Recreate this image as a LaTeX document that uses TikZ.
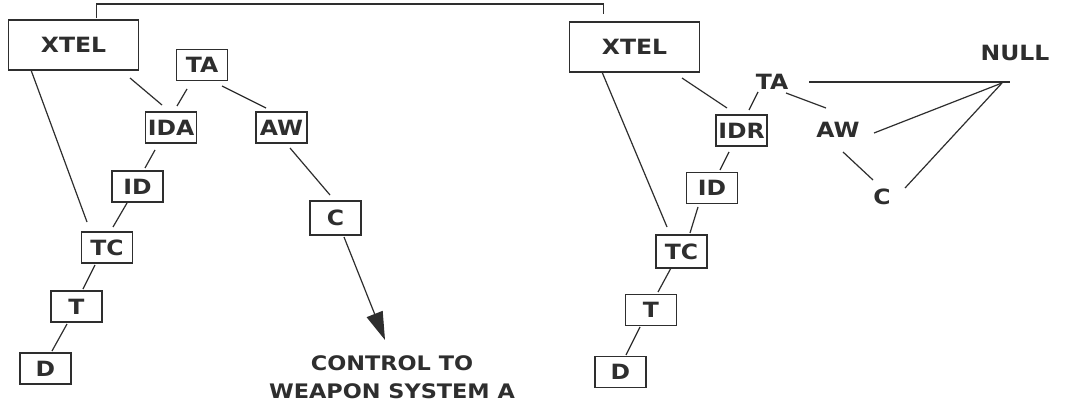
\documentclass[tikz,border=0pt]{standalone}
\usepackage{fontspec}
\newfontfamily\plotfont{DejaVu Sans}[FakeStretch=1.12]
\usetikzlibrary{calc,arrows.meta}
\definecolor{ink}{HTML}{2E2E2E}
\begin{document}
\begin{tikzpicture}[x=1pt,y=-1pt,
  every node/.style={font=\plotfont\bfseries\fontsize{21}{24}\selectfont, text=ink, inner sep=0pt},
  box/.style={draw=ink, line width=1.6pt, minimum width=51pt, minimum height=31pt},
  bigbox/.style={draw=ink, line width=1.6pt, minimum width=130pt, minimum height=50pt},
  lab/.style={},
  link/.style={draw=ink, line width=1.2pt}]
\useasboundingbox[fill=white] (0,0) rectangle (1075,414);
% left diagram
\node[bigbox] (xtelL) at (73.5,45) {XTEL\hspace{10pt}};
\node[box] (taL) at (202,65) {TA};
\node[box] (idaL) at (171,127.5) {IDA};
\node[box] (awL) at (281.5,127.5) {AW};
\node[box] (idL) at (137.5,186.5) {ID};
\node[box] (tcL) at (107,247.5) {TC};
\node[box] (tL) at (76.5,306.5) {T};
\node[box] (dL) at (45.5,368.5) {D};
\node[box, minimum height=34pt] (cL) at (335.5,218) {C};
\coordinate (tip) at (385,340);
\node[align=center, font=\plotfont\bfseries\fontsize{20}{28}\selectfont] (ctl) at (392,377) {CONTROL TO\\WEAPON SYSTEM A};
% right diagram
\node[bigbox] (xtelR) at (634.5,47) {XTEL\hspace{10pt}};
\node[lab] (taR) at (772,82) {TA};
\node[lab] (nullR) at (1015,53) {NULL};
\node[lab] (awR) at (838,130) {AW};
\node[lab] (cR) at (882,197) {C};
\node[box] (idrR) at (741.5,130.5) {IDR};
\node[box] (idR) at (712,188) {ID};
\node[box, minimum height=33pt] (tcR) at (681.5,251.5) {TC};
\node[box] (tR) at (651,310) {T};
\node[box] (dR) at (620.5,372) {D};
% bracket
\draw[link, line width=1.5pt] ($(xtelL.north west)+(89,-1)$) -- ++(0,-14) -| ($(xtelR.north west)+(35,-7)$);
% left links
\draw[link] ($(xtelL)+(-42.5,25)$) -- ($(tcL)+(-20,-25.5)$);
\draw[link] ($(xtelL)+(56.5,33)$) -- ($(idaL)+(-9,-22.5)$);
\draw[link] ($(taL)+(-15,24)$) -- ($(idaL)+(6,-21.5)$);
\draw[link] ($(taL)+(20,21)$) -- ($(awL)+(-15.5,-19.5)$);
\draw[link] ($(idaL)+(-16,22.5)$) -- ($(idL)+(7.5,-18.5)$);
\draw[link] ($(idL)+(-10.5,16.5)$) -- ($(tcL)+(6,-20.5)$);
\draw[link] ($(tcL)+(-12,17.5)$) -- ($(tL)+(6.5,-17.5)$);
\draw[link] ($(tL)+(-9.5,17.5)$) -- ($(dL)+(6.5,-17.5)$);
\draw[link] ($(awL)+(8.5,20.5)$) -- ($(cL)+(-5.5,-23)$);
\draw[link, -{Triangle[length=28pt,width=17pt]}] ($(cL)+(8.5,19)$) -- (tip);
% right links
\coordinate (nullp) at ($(nullR)+(-13,30)$);
\draw[link] ($(xtelR)+(-32.5,25)$) -- ($(tcR)+(-14.5,-24.5)$);
\draw[link] ($(xtelR)+(47.5,31)$) -- ($(idrR)+(-14.5,-22.5)$);
\draw[link] ($(taR)+(-14,10)$) -- ($(idrR)+(7.5,-20.5)$);
\draw[link] ($(taR)+(14,11)$) -- ($(awR)+(-12,-22)$);
\draw[link] ($(taR)+(37,0)$) -- ($(nullR)+(-5,29)$);
\draw[link] (nullp) -- ($(awR)+(36,3)$);
\draw[link] (nullp) -- ($(cR)+(23,-9)$);
\draw[link] ($(awR)+(5,22)$) -- ($(cR)+(-9,-17)$);
\draw[link] ($(idrR)+(-12.5,21.5)$) -- ($(idR)+(8,-18)$);
\draw[link] ($(idR)+(-14,19)$) -- ($(tcR)+(8.5,-18.5)$);
\draw[link] ($(tcR)+(-10.5,16.5)$) -- ($(tR)+(7,-18)$);
\draw[link] ($(tR)+(-11,17)$) -- ($(dR)+(5.5,-17)$);
\end{tikzpicture}
\end{document}
